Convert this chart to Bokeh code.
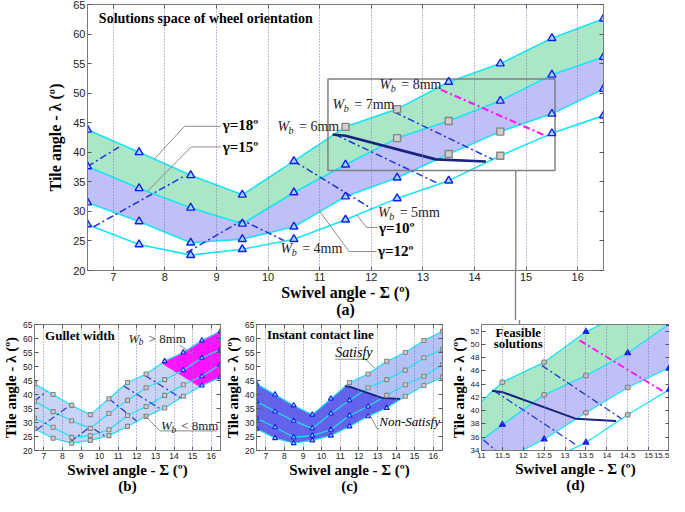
import numpy as np
from bokeh.plotting import figure
from bokeh.models import Range1d, Label, LinearAxis, FixedTicker
from bokeh.layouts import column, row
from bokeh.embed import file_html
from bokeh.resources import INLINE

# ---------------- data ----------------
swivel = [6.5, 7.5, 8.5, 9.5, 10.5, 11.5, 12.5, 13.5, 14.5, 15.5, 16.5]
tilt_g18 = [43.8, 40.0, 36.1, 32.8, 38.5, 44.3, 47.3, 51.9, 55.0, 59.3, 62.6]
tilt_g15 = [37.6, 33.9, 30.6, 27.9, 33.2, 37.9, 42.4, 45.3, 48.7, 53.1, 56.1]
tilt_g12 = [31.5, 28.3, 24.7, 25.3, 27.4, 32.5, 35.7, 39.7, 43.5, 46.5, 50.7]
tilt_g10 = [27.8, 24.4, 22.6, 23.6, 25.3, 28.6, 32.2, 35.2, 39.4, 43.2, 46.2]
curves = {"g18": tilt_g18, "g15": tilt_g15, "g12": tilt_g12, "g10": tilt_g10}

wb2_x, wb2_y = [6.5, 7.15], [37.6, 41.1]
wb3_x, wb3_y = [6.62, 8.4], [27.4, 36.1]
wb4_x, wb4_y = [8.42, 9.5, 10.3], [23.0, 28.5, 25.1]
wb5_x, wb5_y = [10.5, 12.0], [38.5, 30.5]
wb6_x, wb6_y = [11.3, 13.3], [43.0, 34.7]
wb7_x, wb7_y = [12.45, 14.35], [46.8, 38.8]
wb8_x, wb8_y = [13.35, 15.4], [50.6, 42.7]
blue_wb_lines = [(wb2_x, wb2_y), (wb3_x, wb3_y), (wb4_x, wb4_y),
                 (wb5_x, wb5_y), (wb6_x, wb6_y), (wb7_x, wb7_y)]

contact_x = [11.25, 11.5, 13.25, 14.22]
contact_y = [43.0, 42.8, 38.8, 38.45]

zoom_box = [11.16, 15.56, 36.9, 52.4]  # left, right, bottom, top
connector_main_x = 14.8
connector_d_x = 11.92

main_x_ticks = [7, 8, 9, 10, 11, 12, 13, 14, 15, 16]
main_y_ticks = [20, 25, 30, 35, 40, 45, 50, 55, 60, 65]
d_x_ticks = [11, 11.5, 12, 12.5, 13, 13.5, 14, 14.5, 15, 15.5]
d_y_ticks = [34, 36, 38, 40, 42, 44, 46, 48, 50, 52]

main_square_idx = {"g18": [5, 6], "g15": [6, 7], "g12": [7, 8], "g10": [8]}
b_triangle_idx = {"g18": [7, 8, 9, 10], "g15": [8, 9, 10], "g12": [9, 10], "g10": [9, 10]}
c_triangle_idx = {"g18": [0, 1, 2, 3, 4], "g15": [0, 1, 2, 3, 4, 5],
                  "g12": [0, 1, 2, 3, 4, 5, 6], "g10": [0, 1, 2, 3, 4, 5, 6, 7]}

# ---------------- style ----------------
SERIF = "Liberation Serif"
SANS = "Liberation Sans"
CYAN = "#1ae4f4"
GREEN = "#abe6c7"
LAV = "#bfc0f7"
TRI = "#1020e8"
SQ = "#858585"
DASH = "#1f33d6"
NAVY = "#17237c"
MAG = "#ff14ff"
LEAD = "#8a8a8a"
FRAME = "#7a7a7a"


def make_fig(w, h, xr, yr, bl, br, bt, bb, xt, yt, fs, xlabel, ylabel,
             lab_fs="16px", top_box=True, x_minor=None, top_minor=None):
    p = figure(width=w, height=h, x_range=Range1d(*xr), y_range=Range1d(*yr),
               output_backend="svg", toolbar_location=None,
               min_border_left=bl, min_border_right=br,
               min_border_top=bt, min_border_bottom=bb)
    p.outline_line_color = FRAME
    p.xaxis.ticker = FixedTicker(ticks=xt, minor_ticks=x_minor or [])
    p.xaxis.major_label_overrides = {t: f"{t:g}" for t in xt}
    p.yaxis.ticker = FixedTicker(ticks=yt)
    for ax in p.xaxis + p.yaxis:
        ax.major_tick_in = 4
        ax.major_tick_out = 0
        ax.minor_tick_in = 0
        ax.minor_tick_out = 0
        ax.major_label_text_font = SANS
        ax.major_label_text_font_size = fs
        ax.major_label_text_color = "#222222"
        ax.major_label_standoff = 2
        ax.axis_line_color = FRAME
        ax.major_tick_line_color = "#555555"
        ax.axis_label_text_font = SERIF
        ax.axis_label_text_font_style = "bold"
        ax.axis_label_text_font_size = lab_fs
        ax.axis_label_text_color = "black"
        ax.axis_label_standoff = 1
        ax.axis_label_text_line_height = 1.0
    p.xaxis.axis_label_standoff = 0
    if x_minor:
        # connector line drawn outward (negative inner length keeps the axis compact)
        p.xaxis.minor_tick_in = -60
        p.xaxis.minor_tick_out = 0
        p.xaxis.minor_tick_line_color = "#808080"
        p.xaxis.minor_tick_line_width = 1.3
    p.xaxis.axis_label = xlabel
    p.yaxis.axis_label = ylabel
    right = LinearAxis(ticker=FixedTicker(ticks=[], minor_ticks=yt), minor_tick_in=4,
                       minor_tick_out=0, major_tick_in=0, major_tick_out=0,
                       axis_line_color=FRAME, minor_tick_line_color="#555555")
    p.add_layout(right, "right")
    if top_box or top_minor:
        tm = top_minor if top_minor else xt
        top = LinearAxis(ticker=FixedTicker(ticks=[], minor_ticks=tm),
                         minor_tick_in=-10 if top_minor else 4,
                         minor_tick_out=0,
                         major_tick_in=0, major_tick_out=0, axis_line_color=FRAME,
                         minor_tick_line_color="#808080" if top_minor else "#555555",
                         minor_tick_line_width=1.3 if top_minor else 1)
        p.add_layout(top, "above")
    p.xgrid.ticker = FixedTicker(ticks=xt)
    p.xgrid.grid_line_dash = "1 2"
    p.xgrid.grid_line_color = "#7878a8"
    p.xgrid.level = "overlay"
    p.ygrid.visible = False
    return p


def add_label(p, x, y, text, size, style="bold", font=SERIF, align="left",
              baseline="middle", color="black", xo=0, yo=0):
    p.add_layout(Label(x=x, y=y, text=text, text_font=font, text_font_size=f"{size}px",
                       text_font_style=style, text_align=align, text_baseline=baseline,
                       text_color=color, x_offset=xo, y_offset=yo))


def wb_label(p, x, y, rest, size=14):
    add_label(p, x, y, "W", size, "italic", color="#222222")
    add_label(p, x, y, "b", size * 0.72, "italic", xo=size * 0.8, yo=-size * 0.28, color="#222222")
    add_label(p, x, y, rest, size, "normal", xo=size * 1.55, color="#222222")


def draw_markers(p, sq_idx=None, tri_idx=None, size=7, sq_marker="square",
                 tri_fill="#9ed6ff", lw=1.4, sq_fill="#cfcfcf"):
    n = len(swivel)
    for name, ys in curves.items():
        if sq_idx is not None:
            squares = set(sq_idx[name])
        else:
            squares = set(range(n)) - set(tri_idx[name])
        sx = [swivel[i] for i in range(n) if i in squares]
        sy = [ys[i] for i in range(n) if i in squares]
        tx = [swivel[i] for i in range(n) if i not in squares]
        ty = [ys[i] for i in range(n) if i not in squares]
        p.scatter(tx, ty, marker="triangle", size=size, line_color=TRI,
                  fill_color=tri_fill, line_width=lw)
        p.scatter(sx, sy, marker=sq_marker, size=size - 1, line_color=SQ,
                  fill_color=sq_fill, line_width=lw)


def draw_cyan(p, lw=1.6):
    for ys in curves.values():
        p.line(swivel, ys, line_color=CYAN, line_width=lw)


def draw_wb(p, lw=1.5, include_mag=True):
    for xs, ys in blue_wb_lines:
        p.line(xs, ys, line_color=DASH, line_width=lw, line_dash="7 3 2 3")
    if include_mag:
        p.line(wb8_x, wb8_y, line_color=MAG, line_width=lw + 0.6, line_dash="7 3 2 3")


XLAB = "Swivel angle - Σ (º)"
YLAB = "Tile angle - λ (º)"

# ---------------- main panel (a) ----------------
main = make_fig(669, 320, (6.5, 16.5), (20, 65), 87, 66, 4, 44,
                main_x_ticks, main_y_ticks, "11px", XLAB + "\n(a)", YLAB,
                x_minor=[connector_main_x])
main.left[0].axis_label_standoff = 6

main.varea(x=swivel, y1=tilt_g15, y2=tilt_g18, fill_color=GREEN)
main.varea(x=swivel, y1=tilt_g12, y2=tilt_g15, fill_color=LAV)
draw_cyan(main)
draw_wb(main)
main.line(contact_x, contact_y, line_color=NAVY, line_width=2.6)
main.quad(left=[zoom_box[0]], right=[zoom_box[1]], bottom=[zoom_box[2]], top=[zoom_box[3]],
          fill_color=None, line_color="#808080", line_width=1.5)
main.line([connector_main_x, connector_main_x], [zoom_box[2], main_y_ticks[0]],
          line_color="#808080", line_width=1.3)
draw_markers(main, sq_idx=main_square_idx, size=8)

# leaders of gamma labels
main.line([7.8, 8.38, 9.08], [38.9, 44.4, 44.4], line_color=LEAD, line_width=1)
main.line([7.66, 8.51, 9.08], [33.4, 40.9, 40.9], line_color=LEAD, line_width=1)
main.line([11.72, 11.91, 12.12], [29.4, 27.3, 27.3], line_color=LEAD, line_width=1)
main.line([11.0, 11.57, 12.1], [30.0, 23.2, 23.2], line_color=LEAD, line_width=1)

add_label(main, 6.72, 62.6, "Solutions space of wheel orientation", 14)
add_label(main, 9.12, 44.6, "γ=18º", 15)
add_label(main, 9.12, 40.9, "γ=15º", 15)
add_label(main, 12.15, 27.2, "γ=10º", 15)
add_label(main, 12.13, 23.3, "γ=12º", 15)
wb_label(main, 12.16, 51.5, "= 8mm")
wb_label(main, 11.25, 48.0, "= 7mm")
wb_label(main, 10.18, 44.3, "= 6mm")
wb_label(main, 12.13, 29.8, "= 5mm")
wb_label(main, 10.24, 23.7, "= 4mm")

# ---------------- panel (b) ----------------
pb = make_fig(222, 176, (6.5, 16.5), (20, 65), 26, 2, 4, 42,
              main_x_ticks, main_y_ticks, "8.5px", XLAB + "\n(b)", YLAB, lab_fs="15px")
pb.varea(x=swivel, y1=tilt_g10, y2=tilt_g18, fill_color="#c9d3f5")
mag_top_x = [wb8_x[0]] + [s for s in swivel if s > wb8_x[0]]
mag_top_y = list(np.interp(mag_top_x, swivel, tilt_g18))
mag_bot_x = [s for s in swivel if s >= wb8_x[1]][::-1] + [wb8_x[1]]
mag_bot_y = list(np.interp(mag_bot_x, swivel, tilt_g10))
pb.patch(mag_top_x + mag_bot_x, mag_top_y + mag_bot_y, fill_color=MAG, line_color=MAG)
draw_cyan(pb, 1.2)
draw_wb(pb, 1.2, include_mag=False)
draw_markers(pb, tri_idx=b_triangle_idx, size=5, lw=1.1)
pb.line([14.3, 15.0], [57.6, 54.5], line_color=LEAD, line_width=1)
pb.line([12.35, 13.25, 16.3], [33.0, 27.0, 27.0], line_color=LEAD, line_width=1)
add_label(pb, 7.07, 61.1, "Gullet width", 13)
wb_label(pb, 11.55, 59.9, "> 8mm", 13)
wb_label(pb, 13.3, 28.8, "< 8mm", 13)

# ---------------- panel (c) ----------------
pc = make_fig(225, 176, (6.5, 16.5), (20, 65), 29, 5, 4, 42,
              main_x_ticks, main_y_ticks, "8.5px", XLAB + "\n(c)", YLAB, lab_fs="15px")
pc.varea(x=swivel, y1=tilt_g10, y2=tilt_g18, fill_color="#6262ec")
sat_top_x = [contact_x[0]] + [s for s in swivel if s > contact_x[0]]
sat_top_y = list(np.interp(sat_top_x, swivel, tilt_g18))
sat_bot_x = [s for s in swivel if s > contact_x[-1]][::-1]
sat_bot_y = list(np.interp(sat_bot_x, swivel, tilt_g10))
pc.patch(sat_top_x + sat_bot_x + contact_x[::-1], sat_top_y + sat_bot_y + contact_y[::-1],
         fill_color="#b3c2f4", line_color=None)
draw_cyan(pc, 1.2)
pc.line(contact_x, contact_y, line_color=NAVY, line_width=1.8)
draw_markers(pc, tri_idx=c_triangle_idx, size=5, lw=1.1)
pc.line([10.73, 12.35, 12.86], [52.6, 52.6, 49.5], line_color=LEAD, line_width=1)
pc.line([13.1, 12.98, 12.55], [27.8, 27.8, 33.3], line_color=LEAD, line_width=1)
add_label(pc, 7.06, 61.5, "Instant contact line", 13)
add_label(pc, 10.73, 55.0, "Satisfy", 14, style="italic")
add_label(pc, 13.1, 30.3, "Non-Satisfy", 13, style="italic")

# ---------------- panel (d) ----------------
pd_ = make_fig(222, 176, (11, 15.5), (34, 53), 29, 0, 4, 42,
               d_x_ticks, d_y_ticks, "8px", XLAB + "\n(d)", YLAB, lab_fs="15px",
               top_box=False, top_minor=[connector_d_x])
pd_.varea(x=swivel, y1=tilt_g15, y2=tilt_g18, fill_color=GREEN)
pd_.varea(x=swivel, y1=tilt_g12, y2=tilt_g15, fill_color=LAV)
draw_cyan(pd_, 1.3)
draw_wb(pd_, 1.3)
pd_.line(contact_x, contact_y, line_color=NAVY, line_width=2)
draw_markers(pd_, sq_idx=main_square_idx, size=6, sq_marker="circle",
             tri_fill=TRI, lw=1.1, sq_fill="#c8c8c8")
add_label(pd_, 11.88, 51.8, "Feasible", 13, align="center")
add_label(pd_, 11.88, 50.1, "solutions", 13, align="center")

layout = column(main, row(pb, pc, pd_))
open("out.html", "w").write(file_html(layout, INLINE))
